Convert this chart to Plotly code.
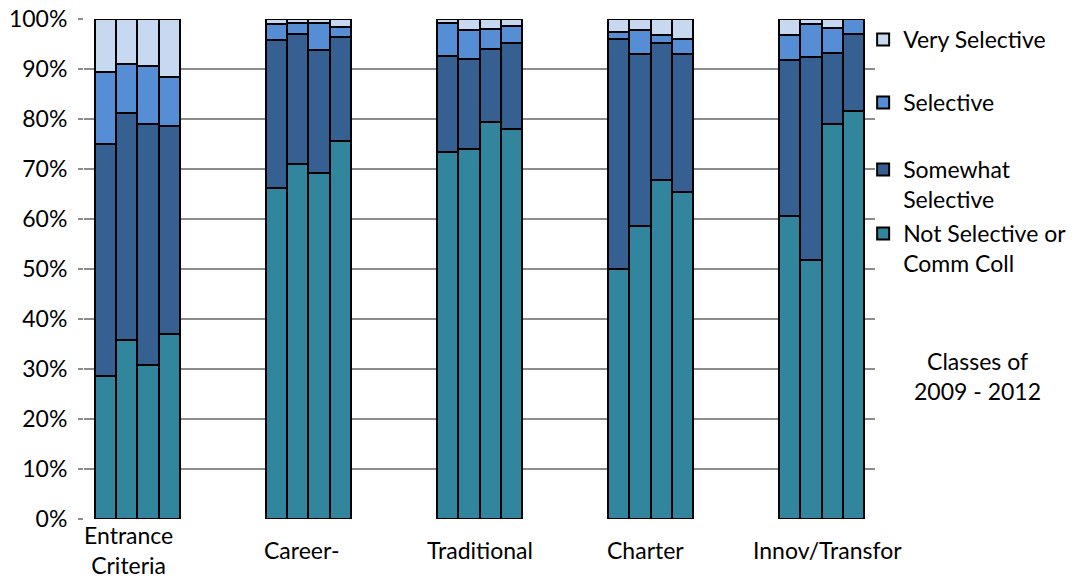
import plotly.graph_objects as go

groups = ["Entrance<br>Criteria", "Career-", "Traditional", "Charter", "Innov/Transfor"]
classes = ["2009", "2010", "2011", "2012"]
series_names = ["Not Selective or<br>Comm Coll", "Somewhat<br>Selective", "Selective", "Very Selective"]

# percent values, per group, 4 class bars each
not_selective = [
    [28.7, 35.8, 30.9, 37.1],
    [66.3, 71.0, 69.3, 75.6],
    [73.5, 74.1, 79.5, 78.1],
    [50.0, 58.6, 67.9, 65.4],
    [60.7, 51.9, 79.1, 81.7],
]
somewhat_selective = [
    [46.4, 45.5, 48.2, 41.5],
    [29.6, 26.0, 24.5, 20.9],
    [19.2, 18.0, 14.5, 17.2],
    [46.1, 34.5, 27.4, 27.7],
    [31.1, 40.6, 14.2, 15.4],
]
selective = [
    [14.4, 9.8, 11.6, 9.9],
    [3.2, 2.3, 5.5, 2.0],
    [6.6, 5.8, 4.1, 3.4],
    [1.4, 4.7, 1.6, 3.0],
    [5.0, 6.6, 5.0, 2.9],
]
very_selective = [
    [10.5, 8.9, 9.3, 11.5],
    [0.9, 0.7, 0.7, 1.5],
    [0.7, 2.1, 1.9, 1.3],
    [2.5, 2.2, 3.1, 3.9],
    [3.2, 0.9, 1.7, 0.0],
]

colors = ["#31859C", "#376092", "#558ED5", "#C6D9F1"]
FONT = "Lato"
FS = 23
GROUP_STEP = 8  # bar slots per group (4 bars + gap)

# legend placement (paper y of each entry's top) for NS, SS, S, VS
legend_ids = ["legend4", "legend3", "legend2", "legend"]
legend_y = [0.614, 0.742, 0.876, 1.002]

xs = [g * GROUP_STEP + b for g in range(len(groups)) for b in range(len(classes))]

fig = go.Figure()
for name, data, col, lid in zip(series_names,
                                [not_selective, somewhat_selective, selective, very_selective],
                                colors, legend_ids):
    vals = [v for row in data for v in row]
    fig.add_trace(go.Bar(
        x=xs, y=vals, name=name, width=1,
        marker=dict(color=col, line=dict(color="black", width=2)),
        legend=lid,
    ))

label_shift = [-9, -7, 0, -5, 6]
for g, (lab, sh) in enumerate(zip(groups, label_shift)):
    fig.add_annotation(
        x=g * GROUP_STEP + (len(classes) - 1) / 2, y=-0.062, xref="x", yref="paper",
        text=lab, showarrow=False, xanchor="center", yanchor="middle", xshift=sh,
        font=dict(family=FONT, size=FS, color="black"),
    )

fig.add_annotation(
    x=1.129, y=0.286, xref="paper", yref="paper",
    text="Classes of<br>2009 - 2012", showarrow=False,
    xanchor="center", yanchor="middle",
    font=dict(family=FONT, size=FS, color="black"),
)

leg_common = dict(
    x=0.985, xanchor="left", yanchor="top", valign="top",
    font=dict(family=FONT, size=FS, color="black"),
    itemwidth=30, bgcolor="rgba(0,0,0,0)",
)

fig.update_layout(
    width=1078, height=578,
    barmode="stack",
    plot_bgcolor="white", paper_bgcolor="white",
    margin=dict(l=84, r=203, t=19, b=59, autoexpand=False),
    font=dict(family=FONT, size=FS, color="black"),
    showlegend=True,
    legend=dict(y=legend_y[3], **leg_common),
    legend2=dict(y=legend_y[2], **leg_common),
    legend3=dict(y=legend_y[1], **leg_common),
    legend4=dict(y=legend_y[0], **leg_common),
    xaxis=dict(
        range=[-1, (len(groups) - 1) * GROUP_STEP + len(classes)],
        showticklabels=False, showgrid=False, zeroline=False,
        showline=False, ticks="", automargin=False,
    ),
    yaxis=dict(
        range=[0, 100], dtick=10, ticksuffix="%",
        showgrid=True, gridcolor="#8C8C8C", gridwidth=1.5,
        zeroline=False, showline=False, automargin=False,
        ticks="outside", ticklen=5, tickcolor="#8C8C8C", tickwidth=1.5,
        ticklabelstandoff=6,
        tickfont=dict(family=FONT, size=FS, color="black"),
    ),
)

fig.write_html("out.html")
